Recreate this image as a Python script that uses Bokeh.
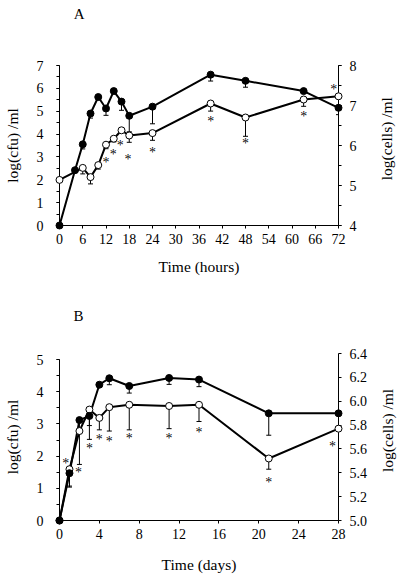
import numpy as np
from bokeh.plotting import figure
from bokeh.models import Range1d, LinearAxis, FixedTicker, PrintfTickFormatter
from bokeh.layouts import column
from bokeh.embed import file_html
from bokeh.resources import INLINE
from bokeh.core.properties import value

FONT = "Liberation Serif"

# ---------------- Panel A (hours) ----------------
a_cfu_t = [0, 4, 6, 8, 10, 12, 14, 16, 18, 24, 39, 48, 63, 72]
a_cfu = [0.0, 2.42, 3.55, 4.9, 5.62, 5.12, 5.88, 5.42, 4.8, 5.2, 6.6, 6.33, 5.88, 5.15]
a_cfu_err = [0, 0, 0.2, 0.2, 0, 0.3, 0, 0.38, 0.7, 0.75, 0.28, 0.28, 0, 0.3]
a_cells_t = [0, 6, 8, 10, 12, 14, 16, 18, 24, 39, 48, 63, 72]
a_cells = [5.14, 5.44, 5.21, 5.51, 6.02, 6.17, 6.38, 6.25, 6.31, 7.05, 6.7, 7.15, 7.23]
a_cells_err = [0, 0.15, 0.17, 0.1, 0.1, 0.08, 0.05, 0.17, 0.18, 0.19, 0.47, 0.17, 0]
a_star_t = [12, 13.85, 15.7, 17.7, 24, 39, 48, 63, 70.8]
a_star_y = [2.89, 3.24, 3.64, 3.02, 3.32, 4.67, 3.72, 4.89, 6.08]
a_xticks = [0, 6, 12, 18, 24, 30, 36, 42, 48, 54, 60, 66, 72]
a_lticks = [0, 1, 2, 3, 4, 5, 6, 7]
a_lminor = [0, 0.5, 1, 1.5, 2, 2.5, 3, 3.5, 4, 4.5, 5, 5.5, 6, 6.5, 7]
a_rticks = [4, 5, 6, 7, 8]
a_rminor = [4, 4.5, 5, 5.5, 6, 6.5, 7, 7.5, 8]

# ---------------- Panel B (days) ----------------
b_t = [0, 1, 2, 3, 4, 5, 7, 11, 14, 21, 28]
b_cfu = [0.0, 1.47, 3.12, 3.25, 4.22, 4.42, 4.18, 4.43, 4.38, 3.33, 3.33]
b_cfu_err = [0, 0.4, 0.3, 0.3, 0, 0.2, 0.22, 0.2, 0.22, 0.68, 0]
b_cells = [5.0, 5.43, 5.75, 5.93, 5.86, 5.95, 5.97, 5.96, 5.97, 5.52, 5.77]
b_cells_err = [0, 0.15, 0.28, 0.25, 0.1, 0.2, 0.21, 0.19, 0.14, 0.09, 0]
b_star_t = [0.63, 1.9, 3, 4, 5, 7, 11, 14, 21, 27.4]
b_star_y = [1.85, 1.57, 2.34, 2.61, 2.55, 2.63, 2.63, 2.84, 1.28, 2.39]
b_xticks = [0, 4, 8, 12, 16, 20, 24, 28]
b_lticks = [0, 1, 2, 3, 4, 5]
b_lminor = [0, 0.5, 1, 1.5, 2, 2.5, 3, 3.5, 4, 4.5, 5]
b_rticks = [5.0, 5.2, 5.4, 5.6, 5.8, 6.0, 6.2, 6.4]

LEFT_LABEL = "log(cfu) /ml"
RIGHT_LABEL = "log(cells) /ml"


def style_axis(ax, label, label_standoff, tick_standoff):
    ax.axis_label = label
    ax.axis_line_color = "black"
    ax.axis_line_width = 1
    ax.major_tick_line_color = "black"
    ax.minor_tick_line_color = "black"
    ax.major_tick_out = 3
    ax.major_tick_in = 0
    ax.minor_tick_out = 3
    ax.minor_tick_in = 0
    ax.major_label_text_font = FONT
    ax.major_label_text_font_size = "14px"
    ax.major_label_text_color = "black"
    ax.major_label_standoff = tick_standoff
    ax.axis_label_text_font = FONT
    ax.axis_label_text_font_style = "normal"
    ax.axis_label_text_font_size = "15.5px"
    ax.axis_label_text_color = "black"
    ax.axis_label_standoff = label_standoff


def draw_series(p, t, v, e, filled, rname):
    t = np.array(t, dtype=float)
    v = np.array(v, dtype=float)
    e = np.array(e, dtype=float)
    lo = v - e
    m = e > 0
    p.line(t, v, line_color="black", line_width=2, y_range_name=rname)
    p.segment(t[m], v[m], t[m], lo[m], line_color="black", line_width=1,
              y_range_name=rname)
    p.scatter(t[m], lo[m], marker="dash", size=5, line_color="black",
              line_width=1, y_range_name=rname)
    p.scatter(t, v, marker="circle", size=7,
              fill_color="black" if filled else "white",
              line_color="black", line_width=1, y_range_name=rname,
              level="overlay")


def stars(p, t, y):
    p.text(x=t, y=y, text=["*"] * len(t), text_font=value(FONT),
           text_font_size="14px", text_align="center", text_color="black",
           text_alpha=0.97, text_baseline="middle", y_offset=3,
           level="overlay")


def free_text(p, x, y, s, size, angle=0.0):
    p.text(x=[x], y=[y], text=[s], text_font=value(FONT),
           text_font_size=size, text_align="center", text_color="black",
           text_baseline="middle", angle=angle, level="overlay")


# ---------- figure A ----------
hA = 281
pA = figure(width=400, height=hA, x_range=Range1d(0, 72), y_range=Range1d(0, 7),
            output_backend="svg", toolbar_location=None, title=None,
            min_border_left=57, min_border_right=62, min_border_top=65,
            min_border_bottom=hA - 65 - 160)
pA.extra_y_ranges = {"right": Range1d(4, 8)}
pA.grid.visible = False
pA.outline_line_color = None
pA.xaxis.ticker = FixedTicker(ticks=a_xticks)
pA.yaxis.ticker = FixedTicker(ticks=a_lticks, minor_ticks=a_lminor)
style_axis(pA.xaxis[0], "Time (hours)", 11, 5)
style_axis(pA.yaxis[0], LEFT_LABEL, 13, 13)
rA = LinearAxis(y_range_name="right",
                ticker=FixedTicker(ticks=a_rticks, minor_ticks=a_rminor))
style_axis(rA, None, 0, 8)
pA.add_layout(rA, "right")

draw_series(pA, a_cells_t, a_cells, a_cells_err, False, "right")
draw_series(pA, a_cfu_t, a_cfu, a_cfu_err, True, "default")
stars(pA, a_star_t, a_star_y)
free_text(pA, 5.1, 9.27, "A", "15px")
free_text(pA, 84.3, 3.8, RIGHT_LABEL, "15.5px", np.pi / 2)

# ---------- figure B ----------
hB = 576 - hA
topB = 353 - hA
pB = figure(width=400, height=hB, x_range=Range1d(0, 28), y_range=Range1d(0, 5.19),
            output_backend="svg", toolbar_location=None, title=None,
            min_border_left=57, min_border_right=62, min_border_top=topB,
            min_border_bottom=hB - topB - 167)
pB.extra_y_ranges = {"right": Range1d(5.0, 6.4)}
pB.grid.visible = False
pB.outline_line_color = None
pB.xaxis.ticker = FixedTicker(ticks=b_xticks)
pB.yaxis.ticker = FixedTicker(ticks=b_lticks, minor_ticks=b_lminor)
pB.yaxis.bounds = (0, 5)
style_axis(pB.xaxis[0], "Time (days)", 14, 5)
style_axis(pB.yaxis[0], LEFT_LABEL, 13, 13)
rB = LinearAxis(y_range_name="right", ticker=FixedTicker(ticks=b_rticks),
                formatter=PrintfTickFormatter(format="%.1f"))
style_axis(rB, None, 0, 8)
pB.add_layout(rB, "right")

draw_series(pB, b_t, b_cells, b_cells_err, False, "right")
draw_series(pB, b_t, b_cfu, b_cfu_err, True, "default")
stars(pB, b_star_t, b_star_y)
free_text(pB, 1.9, 6.34, "B", "15px")
free_text(pB, 32.9, 2.8, RIGHT_LABEL, "15.5px", np.pi / 2)

layout = column(pA, pB)
open("out.html", "w").write(file_html(layout, INLINE))
